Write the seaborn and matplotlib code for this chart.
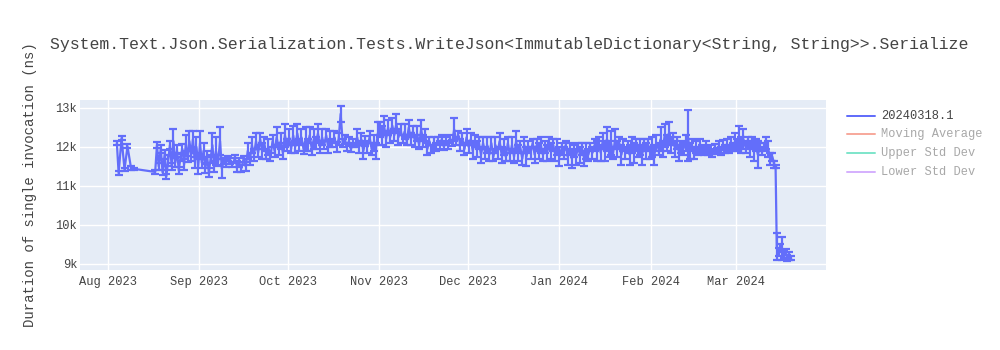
import numpy as np
import pandas as pd
import matplotlib
matplotlib.use("Agg")
import matplotlib.pyplot as plt
from matplotlib.lines import Line2D
import seaborn as sns

TITLE = "System.Text.Json.Serialization.Tests.WriteJson<ImmutableDictionary<String, String>>.Serialize"
Y_LABEL = "Duration of single invocation (ns)"
SERIES_NAME = "20240318.1"
LEGEND_LABELS = ["20240318.1", "Moving Average", "Upper Std Dev", "Lower Std Dev"]
START_DATE = "2023-08-01"

# day offsets from START_DATE
days = [
    3.0, 3.6, 4.6, 5.6, 6.6, 7.8, 8.8, 16.0,
    16.6, 17.2, 17.9, 18.5, 19.2, 19.8, 20.4, 21.0, 21.6, 22.2,
    22.8, 23.4, 24.0, 24.6, 25.2, 25.8, 26.4, 27.0, 27.6, 28.2,
    28.8, 29.4, 30.0, 30.6, 31.2, 31.8, 32.4, 33.0, 33.6, 34.2,
    34.8, 35.4, 36.0, 36.6, 37.3, 38.0, 38.6, 39.3, 40.0, 40.8,
    41.5, 42.2, 43.0, 43.8, 44.5, 45.2, 46.0, 46.7, 47.4, 48.1,
    48.8, 49.5, 50.2, 50.9, 51.6, 52.3, 53.0, 53.7, 54.4, 55.1,
    55.8, 56.5, 57.2, 57.9, 58.6, 59.3, 60.0, 60.7, 61.4, 62.1,
    62.8, 63.5, 64.2, 64.9, 65.6, 66.3, 67.0, 67.7, 68.4, 69.1,
    69.8, 70.5, 71.2, 71.9, 72.6, 73.3, 74.0, 74.7, 75.4, 76.1,
    76.8, 77.5, 78.2, 78.9, 79.6, 80.3, 81.0, 81.7, 82.4, 83.1,
    83.8, 84.5, 85.2, 85.9, 86.6, 87.3, 88.0, 88.7, 89.4, 90.1,
    90.8, 91.5, 92.2, 92.9, 93.6, 94.3, 95.0, 95.7, 96.4, 97.1,
    97.8, 98.5, 99.2, 99.9, 100.6, 101.3, 102.0, 102.7, 103.4, 104.1,
    104.8, 105.5, 106.2, 106.9, 107.6, 108.3, 109.0, 109.7, 110.4, 111.1,
    111.8, 112.5, 113.2, 113.9, 114.6, 115.3, 116.0, 116.7, 117.4, 118.1,
    118.8, 119.5, 120.2, 120.9, 121.6, 122.3, 123.0, 123.7, 124.4, 125.1,
    125.8, 126.5, 127.2, 127.9, 128.6, 129.3, 130.0, 130.7, 131.4, 132.1,
    132.8, 133.5, 134.2, 134.9, 135.6, 136.3, 137.0, 137.7, 138.4, 139.1,
    139.8, 140.5, 141.2, 141.9, 142.6, 143.3, 144.0, 144.7, 145.4, 146.1,
    146.8, 147.5, 148.2, 148.9, 149.6, 150.3, 151.0, 151.7, 152.4, 153.1,
    153.8, 154.5, 155.2, 155.9, 156.6, 157.3, 158.0, 158.7, 159.4, 160.1,
    160.8, 161.5, 162.2, 162.9, 163.6, 164.3, 165.0, 165.7, 166.4, 167.1,
    167.8, 168.5, 169.2, 169.9, 170.6, 171.3, 172.0, 172.7, 173.4, 174.1,
    174.8, 175.5, 176.2, 176.9, 177.6, 178.3, 179.0, 179.7, 180.4, 181.1,
    181.8, 182.5, 183.2, 183.9, 184.6, 185.3, 186.0, 186.7, 187.4, 188.1,
    188.8, 189.5, 190.2, 190.9, 191.6, 192.3, 193.0, 193.7, 194.4, 195.1,
    195.9, 196.6, 197.3, 198.0, 198.7, 199.4, 200.1, 200.8, 201.5, 202.2,
    202.9, 203.6, 204.3, 205.0, 205.7, 206.4, 207.1, 207.8, 208.5, 209.2,
    209.9, 210.6, 211.3, 212.0, 212.7, 213.4, 214.1, 214.8, 215.5, 216.2,
    216.9, 217.6, 218.3, 219.0, 219.7, 220.4, 221.1, 221.8, 222.5, 223.2,
    223.9, 224.6, 225.3, 226.0, 226.4, 226.8, 227.4, 228.0, 228.6, 229.2,
    229.8, 230.4, 231.0, 231.6,
]

# mean duration (ns)
values = [
    12100, 11330, 12230, 11420, 12020, 11460, 11440, 11360,
    12050, 11500, 11950, 11350, 11800, 11250, 11650, 12050, 11500, 12150,
    11600, 11900, 11400, 11750, 11950, 11550, 12100, 11700, 12150, 11800,
    12200, 11650, 12000, 11500, 12100, 11600, 11900, 11450, 11750, 11350,
    11700, 12050, 11500, 11900, 11600, 12150, 11450, 11650, 11600, 11700,
    11650, 11550, 11700, 11500, 11600, 11450, 11700, 11500, 11900, 11650,
    12050, 11800, 12150, 11850, 12200, 11900, 12100, 11800, 12000, 11750,
    12150, 11900, 12250, 11950, 12150, 11850, 12300, 12050, 12250, 11950,
    12300, 12000, 12350, 12050, 12250, 11950, 12200, 12050, 12300, 11950,
    12200, 12100, 12350, 12000, 12250, 12050, 12300, 12000, 12200, 12100,
    12250, 12000, 12200, 12850, 12100, 12200, 12000, 12150, 11950, 12100,
    12050, 12250, 12000, 12200, 11900, 12150, 12000, 12250, 11950, 12100,
    11900, 12350, 12450, 12300, 12550, 12200, 12500, 12250, 12550, 12300,
    12600, 12250, 12450, 12200, 12400, 12150, 12500, 12200, 12400, 12150,
    12350, 12050, 12450, 12150, 12300, 11950, 12150, 11950, 12100, 12000,
    12150, 12050, 12200, 12000, 12150, 12050, 12200, 12100, 12450, 12150,
    12300, 12050, 12200, 11950, 12250, 12000, 12200, 11900, 12150, 11950,
    12100, 11800, 12100, 11850, 12050, 11800, 12100, 11750, 12050, 11850,
    12150, 11800, 12000, 11750, 12100, 11800, 12050, 11750, 12150, 11850,
    12000, 11700, 12050, 11750, 12000, 11850, 12100, 11800, 12050, 11900,
    12050, 11800, 12000, 11850, 12100, 11900, 12050, 11800, 12000, 11750,
    11950, 11850, 12050, 11750, 11950, 11700, 11900, 11750, 12000, 11800,
    11950, 11700, 11900, 11800, 12000, 11850, 12050, 11900, 12100, 11850,
    12150, 11900, 12200, 11950, 12100, 11850, 12200, 11950, 12100, 11800,
    12050, 11850, 12000, 11800, 12050, 11850, 12050, 11900, 12000, 11800,
    12050, 11900, 12050, 11850, 12000, 11800, 12100, 11950, 12200, 11950,
    12300, 12100, 12350, 12050, 12200, 11950, 12100, 11850, 12000, 11950,
    12100, 12300, 11900, 12050, 11850, 12000, 11900, 12050, 11950, 11900,
    12000, 11900, 11950, 11850, 11950, 11900, 12000, 11900, 12050, 11950,
    12050, 11950, 12100, 12000, 12150, 12050, 12250, 12050, 12200, 12000,
    12100, 11950, 12100, 11900, 12050, 11800, 12000, 11900, 12000, 12100,
    11950, 11700, 11750, 11550, 11500, 9450, 9300, 9400, 9400, 9250,
    9300, 9150, 9200, 9150,
]

# error bar half-lengths (ns)
errors = [
    60, 60, 60, 40, 50, 40, 30, 50,
    80, 90, 100, 60, 120, 70, 150, 100, 100, 300,
    120, 150, 80, 100, 120, 150, 200, 80, 250, 150,
    200, 200, 250, 200, 300, 150, 200, 120, 150, 120,
    100, 300, 150, 350, 100, 350, 250, 80, 120, 60,
    80, 60, 100, 150, 120, 100, 80, 120, 200, 100,
    200, 150, 200, 100, 150, 200, 150, 100, 200, 100,
    150, 150, 250, 150, 200, 150, 300, 150, 200, 100,
    250, 150, 250, 150, 200, 120, 300, 150, 200, 150,
    250, 150, 250, 150, 200, 100, 150, 150, 200, 100,
    150, 120, 150, 200, 100, 120, 100, 100, 80, 100,
    60, 200, 150, 150, 200, 120, 150, 150, 150, 200,
    200, 300, 200, 250, 250, 200, 200, 150, 200, 150,
    250, 200, 150, 100, 200, 100, 200, 150, 150, 150,
    200, 100, 250, 150, 150, 150, 100, 100, 150, 100,
    100, 100, 100, 80, 100, 100, 100, 80, 300, 100,
    100, 150, 150, 150, 200, 150, 150, 200, 150, 200,
    150, 200, 150, 150, 200, 150, 150, 100, 200, 150,
    200, 200, 200, 100, 150, 150, 200, 150, 250, 200,
    150, 150, 200, 250, 150, 150, 100, 200, 150, 200,
    200, 150, 150, 200, 150, 200, 150, 150, 200, 250,
    150, 150, 100, 200, 150, 250, 150, 200, 100, 200,
    150, 200, 200, 150, 100, 150, 150, 250, 150, 200,
    200, 250, 300, 200, 300, 150, 250, 200, 150, 250,
    150, 150, 150, 250, 200, 250, 150, 150, 200, 250,
    150, 200, 150, 150, 250, 250, 200, 150, 300, 200,
    300, 200, 300, 200, 150, 200, 150, 200, 150, 150,
    200, 650, 200, 150, 150, 150, 100, 150, 100, 100,
    150, 100, 100, 100, 120, 80, 150, 100, 120, 100,
    150, 100, 150, 100, 200, 150, 300, 200, 250, 150,
    150, 200, 150, 250, 150, 350, 100, 100, 100, 150,
    200, 150, 100, 100, 50, 350, 100, 100, 300, 100,
    80, 80, 100, 60,
]

y_ticks = [9000, 10000, 11000, 12000, 13000]
y_tick_labels = ["9k", "10k", "11k", "12k", "13k"]
x_tick_dates = ["2023-08-01", "2023-09-01", "2023-10-01", "2023-11-01",
                "2023-12-01", "2024-01-01", "2024-02-01", "2024-03-01"]
x_tick_labels = ["Aug 2023", "Sep 2023", "Oct 2023", "Nov 2023",
                 "Dec 2023", "Jan 2024", "Feb 2024", "Mar 2024"]

assert len(days) == len(values) == len(errors)

LINE_COLOR = "#636EFA"
HIDDEN_COLORS = ["#F7AA9D", "#80E5CB", "#D5B1FD"]
TEXT_COLOR = "#444444"
HIDDEN_TEXT = "#A8A8A8"
FONT = ["Liberation Mono", "DejaVu Sans Mono"]

sns.set_style("darkgrid", {"axes.facecolor": "#E5ECF6", "grid.color": "white",
                           "axes.edgecolor": "#E5ECF6"})
plt.rcParams["font.family"] = FONT

df = pd.DataFrame({
    "date": pd.Timestamp(START_DATE) + pd.to_timedelta(days, unit="D"),
    "value": values,
    "err": errors,
})

fig = plt.figure(figsize=(10, 3.5), dpi=100)
ax = fig.add_axes([0.080, 1 - 270 / 350, 0.746, 170 / 350])

ax.errorbar(df["date"], df["value"], yerr=df["err"], fmt="none",
            ecolor=LINE_COLOR, elinewidth=1.6, capsize=3.0, capthick=1.6, zorder=3)
sns.lineplot(data=df, x="date", y="value", sort=False, estimator=None,
             color=LINE_COLOR, linewidth=1.6, ax=ax, zorder=4)

ax.set_xlim(pd.Timestamp("2023-07-22 12:00"), pd.Timestamp("2024-03-31 12:00"))
ax.set_ylim(8846, 13205)
ax.set_yticks(y_ticks)
ax.set_yticklabels(y_tick_labels)
ax.set_xticks(pd.to_datetime(x_tick_dates))
ax.set_xticklabels(x_tick_labels)
ax.tick_params(axis="both", length=0, labelsize=8.64, labelcolor=TEXT_COLOR)
ax.tick_params(axis="y", pad=2)
ax.tick_params(axis="x", pad=4)
ax.grid(True, color="white", linewidth=1)
for s in ax.spines.values():
    s.set_visible(False)
ax.set_xlabel("")
ax.set_ylabel(Y_LABEL, fontsize=10.08, color=TEXT_COLOR)
ax.yaxis.set_label_coords(-0.057, 0.5)

fig.text(0.050, 1 - 45 / 350, TITLE, fontsize=11.9, color=TEXT_COLOR,
         ha="left", va="center")

# legend (first trace visible, others legend-only)
legend_y = [116, 134, 153, 172]
legend_colors = [LINE_COLOR] + HIDDEN_COLORS
legend_text_colors = [TEXT_COLOR] + [HIDDEN_TEXT] * 3
for lab, yy, c, tc in zip(LEGEND_LABELS, legend_y, legend_colors, legend_text_colors):
    fy = 1 - yy / 350
    fig.add_artist(Line2D([847 / 1000, 875 / 1000], [fy, fy], transform=fig.transFigure,
                          color=c, linewidth=1.44))
    fig.text(881 / 1000, fy, lab, fontsize=8.64, color=tc, ha="left", va="center")

fig.savefig("out.png", dpi=100)
